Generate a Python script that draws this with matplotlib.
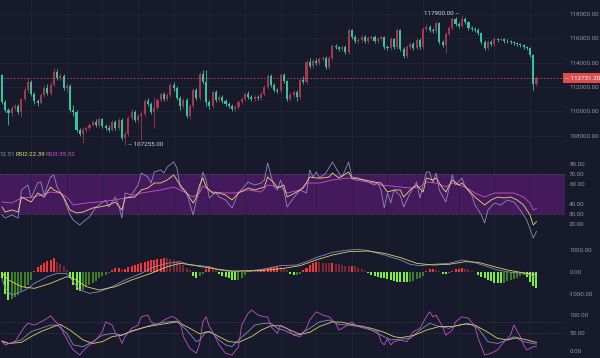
import matplotlib
matplotlib.use("Agg")
import matplotlib.pyplot as plt
from matplotlib.ticker import FormatStrFormatter

# ---- price candles (open of each candle = previous close) ----
first_open = 112980
closes = [110760, 110100, 109850, 110260, 110430, 109930, 111000, 111750, 112400, 111420,
          110840, 110680, 111330, 111910, 111500, 112160, 113230, 112730, 112900, 111910,
          112070, 110100, 109930, 108450, 108120, 108450, 108620, 108860, 109110, 108860,
          109360, 108780, 108620, 108450, 109110, 108620, 109280, 107800, 108120, 109440,
          109930, 109280, 109610, 109770, 110840, 110590, 109930, 110260, 110920, 111420,
          111000, 111330, 112160, 111910, 111090, 110430, 110920, 109610, 110430, 111750,
          111090, 113060, 112400, 110760, 110430, 111580, 110920, 111170, 110840, 110590,
          110430, 110180, 110350, 110760, 111000, 111420, 111170, 111000, 111170, 111090,
          111420, 111990, 112900, 112160, 111750, 111660, 112980, 112490, 111000, 111330,
          111580, 111170, 112570, 112400, 114050, 113720, 114130, 113970, 114300, 114380,
          113640, 114380, 115370, 115280, 115120, 115280, 114870, 116680, 116110, 115780,
          115860, 116110, 115780, 116030, 116110, 115780, 115940, 116110, 115280, 115200,
          115940, 115280, 116680, 115120, 114540, 115280, 115530, 115200, 115860, 115280,
          116770, 116930, 116680, 116600, 117260, 115700, 115450, 116350, 116850, 117590,
          117180, 117010, 117590, 117340, 116850, 116770, 116680, 116440, 115700, 115200,
          115700, 115530, 115940, 115860, 115940, 115780, 115760, 115700, 115610, 115530,
          115450, 115280, 115200, 114630, 112240, 112731.2]
highs = [113060, 110920, 110260, 110430, 110590, 110590, 111090, 111990, 112730, 112570,
         111580, 111000, 111500, 112160, 112240, 112400, 113560, 113480, 113140, 113060,
         112320, 112240, 110510, 110100, 108620, 108700, 108780, 109030, 109280, 109360,
         109520, 109440, 108950, 108860, 109280, 109280, 109440, 109440, 108370, 109610,
         110180, 110100, 109770, 110020, 111000, 111090, 110760, 111170, 111090, 111580,
         111580, 111500, 112320, 112400, 112070, 111250, 111090, 111090, 110590, 111910,
         111910, 113230, 113400, 113390, 110920, 111750, 111750, 111330, 111330, 111000,
         110760, 110590, 110510, 110920, 111170, 111580, 111660, 111330, 111330, 111330,
         111580, 112160, 113060, 113060, 112320, 111910, 113140, 113140, 112570, 111580,
         111750, 111750, 112730, 112900, 114210, 114380, 114300, 114380, 114460, 114540,
         114540, 114540, 115530, 115530, 115370, 115450, 115450, 116850, 116770, 116270,
         116030, 116270, 116270, 116190, 116270, 116270, 116110, 116270, 116190, 115450,
         116110, 116030, 116850, 116770, 115280, 115450, 115700, 115700, 116030, 116030,
         116930, 117180, 117100, 116850, 117420, 117340, 115860, 116520, 117010, 117750,
         117750, 117340, 117900, 117750, 117420, 117010, 116930, 116850, 116520, 115860,
         115860, 115860, 116110, 116030, 116110, 116030, 115940, 115860, 115780, 115700,
         115610, 115530, 115370, 115280, 114710, 112900]
lows = [110590, 109930, 108860, 109610, 110100, 109770, 109520, 110840, 111580, 111250,
        110590, 110430, 110590, 111170, 111330, 111330, 112070, 112570, 112570, 111750,
        111580, 109930, 109610, 108290, 107960, 107380, 108290, 108450, 108780, 108700,
        108700, 108620, 108450, 108290, 108370, 108450, 108450, 107630, 107255, 107960,
        109280, 109110, 109110, 107630, 109610, 110430, 109770, 108620, 110100, 110760,
        110840, 110840, 111170, 111660, 110920, 110100, 110260, 109440, 109360, 110260,
        110920, 110920, 112240, 110430, 110180, 110260, 110760, 110760, 110680, 110430,
        110260, 110020, 110020, 110180, 110590, 110840, 111000, 110840, 110840, 110920,
        110920, 111250, 111830, 112000, 111580, 111500, 111500, 112320, 110840, 110840,
        111170, 110840, 111000, 112240, 112240, 113560, 113560, 113800, 113800, 114130,
        113480, 113480, 114210, 115120, 114960, 114960, 114710, 114710, 115940, 115610,
        115610, 115700, 115610, 115610, 115860, 115610, 115610, 115780, 115120, 115040,
        115040, 115120, 115120, 114960, 114380, 114380, 115120, 115040, 115040, 115120,
        115120, 116600, 116520, 116440, 116440, 115530, 115280, 114790, 116190, 116680,
        117010, 116850, 116930, 117180, 116680, 116600, 116520, 116270, 115530, 115040,
        115040, 115370, 115370, 115700, 115780, 115610, 115610, 115530, 115450, 115370,
        115280, 115120, 115040, 114460, 111750, 112070]

price_ticks = [108000, 110000, 112000, 114000, 116000, 118000]

# ---- RSI lines (candle index, value) ----
rsi1_t = [0, 1, 3, 5, 6, 8, 9, 11, 12, 13, 15, 16, 17, 18, 19, 21, 22, 24, 25, 27, 29, 30, 32, 33,
          35, 36, 37, 38, 40, 42, 43, 45, 46, 47, 49, 50, 51, 53, 54, 55, 57, 59, 60, 61, 62, 63,
          64, 66, 67, 69, 71, 73, 76, 78, 80, 81, 82, 83, 84, 85, 86, 87, 88, 90, 92, 94, 95, 96,
          97, 98, 100, 102, 104, 105, 107, 108, 110, 113, 115, 116, 117, 118, 119, 120, 121, 123,
          124, 126, 128, 129, 131, 132, 133, 134, 135, 137, 139, 140, 142, 143, 145, 146, 148,
          149, 150, 152, 154, 156, 158, 160, 162, 164, 165]
rsi1_v = [29, 26, 29, 26, 54, 59, 46, 61, 62, 49, 67, 69, 57, 52, 46, 29, 24, 19, 22, 27, 37, 39, 44, 37,
          47, 39, 26, 51, 49, 59, 71, 67, 61, 72, 74, 71, 77, 82, 76, 57, 51, 29, 44, 54, 72, 64,
          46, 52, 47, 44, 36, 51, 62, 59, 61, 64, 81, 69, 57, 54, 64, 54, 37, 46, 54, 51, 74, 67,
          72, 66, 71, 82, 71, 67, 82, 67, 66, 62, 59, 61, 54, 36, 51, 41, 54, 48,
          37, 51, 62, 46, 72, 72, 61, 71, 54, 42, 69, 59, 66, 57, 49, 39, 29,
          21, 34, 41, 39, 44, 42, 34, 24, 6, 12.51]
rsi2_t = [0, 1, 3, 5, 6, 9, 11, 13, 15, 16, 18, 19, 21, 23, 25, 28, 30, 33, 35, 37, 38, 41, 43, 45,
          47, 49, 51, 53, 55, 57, 59, 60, 61, 62, 63, 65, 67, 69, 71, 73, 76, 78, 81, 82, 84, 85,
          87, 88, 91, 93, 95, 97, 99, 101, 102, 104, 107, 108, 112, 115, 117, 119, 121, 123, 124,
          126, 128, 130, 131, 133, 134, 136, 137, 139, 141, 142, 144, 146, 149, 151, 153, 155,
          157, 159, 161, 163, 164, 165]
rsi2_v = [37, 32, 34, 32, 47, 42, 51, 47, 57, 54, 51, 47, 34, 31, 32, 36, 37, 39, 42, 34, 46, 47, 54, 56,
          61, 61, 64, 69, 59, 51, 41, 47, 59, 66, 57, 51, 51, 49, 44, 51, 56, 54, 57, 67, 61, 56,
          59, 47, 52, 56, 67, 66, 66, 67, 71, 66, 72, 66, 64, 62, 61, 52, 54, 54, 47,
          54, 59, 52, 66, 64, 66, 56, 52, 64, 59, 61, 54, 47, 39, 44, 47, 46,
          47, 44, 39, 29, 19, 22.39]
rsi3_t = [0, 3, 6, 10, 15, 18, 20, 22, 26, 30, 35, 38, 43, 49, 53, 55, 59, 61, 62, 65, 69, 72, 76, 80,
          82, 86, 88, 92, 94, 98, 102, 107, 109, 115, 117, 123, 126, 129, 131, 134, 137, 139, 143,
          146, 149, 152, 156, 158, 161, 163, 164, 165]
rsi3_v = [42, 41, 46, 47, 52, 51, 47, 39, 41, 42, 44, 46, 51, 54, 57, 54, 47, 51, 58, 52, 51, 51, 54, 52,
          59, 57, 51, 54, 61, 61, 64, 66, 64, 61, 59, 57, 56, 57, 62, 61, 57, 61, 57,
          51, 47, 51, 51, 51, 47, 41, 34, 35.52]
rsi_ticks = [20, 30, 40, 60, 70, 80]

# ---- MACD ----
dif_t = [0, 1, 3, 6, 8, 10, 14, 17, 20, 22, 24, 27, 30, 34, 38, 43, 47, 51, 55, 58, 61, 64, 67, 71,
         74, 79, 82, 86, 91, 94, 97, 102, 107, 110, 113, 118, 123, 126, 129, 133, 138, 142, 145,
         149, 153, 157, 161, 163, 165]
dif_v = [-295, -760, -1070, -915, -760, -527, -217, -62, -62, -450, -837, -992, -915, -682, -372, -62,
         248, 403, 480, 326, 300, 248, 93, 15, 47, 93, 170, 295, 326, 480, 667, 915, 1023, 1054,
         992, 790, 558, 357, 295, 357, 403, 558, 480, 295, 93, -15, -62, -140, -295]
dea_t = [0, 2, 6, 10, 15, 20, 22, 26, 30, 35, 40, 46, 51, 55, 59, 61, 66, 71, 77, 82, 87, 92, 97,
         102, 107, 113, 118, 123, 128, 133, 138, 143, 147, 152, 156, 160, 164, 165]
dea_v = [-62, -372, -682, -760, -527, -217, -295, -682, -837, -682, -372, -62, 248, 403, 326, 260,
         140, 47, 47, 93, 170, 295, 558, 790, 945, 977, 868, 670, 403, 326, 357, 480, 450, 248,
         93, -15, -108, -140]
macd_hist = [-300, -1000, -1300, -1250, -1150, -1050, -900, -750, -600, -350,
             60, 230, 310, 420, 500, 570, 630, 480, 380, 280,
             100, -300, -600, -850, -900, -850, -700, -600, -500, -400,
             -300, -200, -120, -50, 90, 170, 170, 120, 150, 220,
             280, 330, 380, 420, 470, 520, 560, 580, 600, 620,
             640, 630, 600, 560, 500, 420, 320, 200, 80, -180,
             -260, -200, -80, 150, 250, 200, 100, -100, -180, -250,
             -300, -350, -380, -370, -300, -150, 80, 100, 90, 100,
             130, 160, 200, 230, 250, 260, 220, 160, 80, -100,
             -150, -140, -80, 80, 200, 330, 420, 480, 470, 440,
             420, 400, 430, 380, 350, 330, 300, 280, 300, 260,
             200, 130, 50, -60, -120, -170, -220, -260, -300, -340,
             -380, -420, -450, -450, -460, -470, -450, -400, -330, -260,
             -180, 60, 120, 140, 110, 50, -80, -100, -60, 60,
             120, 150, 170, 160, 120, 60, -20, -150, -220, -300,
             -370, -440, -500, -530, -530, -500, -430, -370, -320, -260,
             -200, -160, -250, -450, -650, -760]
macd_ticks = [-1000, 0, 1000]

# ---- KDJ ----
k_t = [0, 2, 6, 9, 12, 15, 17, 20, 22, 25, 28, 31, 34, 37, 40, 43, 46, 50, 54, 57, 60, 61, 63, 65,
       67, 69, 71, 73, 76, 78, 81, 83, 85, 87, 89, 91, 93, 95, 98, 101, 104, 107, 110, 114, 117,
       120, 123, 126, 129, 132, 135, 138, 141, 144, 147, 150, 153, 156, 158, 161, 164, 165]
k_v = [26, 21, 31, 54, 63, 72, 72, 49, 17, 12, 26, 44, 49, 44, 54, 63, 72, 80, 83, 58, 26, 30, 54, 49,
       31, 17, 12, 31, 54, 72, 77, 77, 63, 58, 49, 44, 52, 63, 81, 86, 74, 72, 68, 58, 44,
       31, 33, 35, 58, 77, 68, 63, 72, 77, 63, 26, 21, 31, 40, 26, 21, 19]
d_t = [0, 2, 6, 9, 12, 16, 18, 21, 25, 28, 31, 34, 37, 40, 45, 49, 54, 57, 61, 64, 67, 70, 73, 77,
       80, 83, 86, 89, 92, 95, 98, 102, 105, 109, 114, 118, 121, 123, 127, 131, 135, 139, 143,
       146, 150, 153, 156, 159, 162, 164, 165]
d_v = [28, 21, 24, 40, 54, 68, 74, 58, 31, 21, 26, 40, 44, 56, 68, 74, 81, 68, 48, 54, 40, 26, 24, 40,
       58, 70, 70, 58, 46, 52, 68, 81, 80, 72, 63, 52, 40, 37, 43, 58, 68, 68, 75,
       72, 52, 35, 31, 37, 31, 26, 24]
j_t = [0, 1, 4, 7, 8, 10, 12, 14, 15, 17, 18, 19, 21, 22, 24, 25, 27, 29, 31, 32, 34, 35, 36, 37,
       38, 40, 42, 43, 45, 46, 48, 50, 52, 53, 55, 56, 58, 60, 61, 62, 63, 64, 65, 67, 69, 71,
       73, 74, 76, 77, 79, 81, 82, 83, 85, 86, 88, 90, 92, 94, 95, 97, 99, 101, 103, 104, 106,
       108, 109, 112, 114, 116, 117, 118, 119, 120, 121, 123, 125, 127, 129, 131, 132, 133, 134,
       136, 137, 139, 140, 142, 144, 146, 147, 149, 151, 153, 155, 157, 158, 160, 161, 162, 164,
       165]
j_v = [26, 17, 26, 68, 77, 72, 81, 91, 98, 77, 72, 49, 17, 3, -11, 0, 17, 31, 54, 81, 72, 49, 44, 21,
       40, 63, 72, 95, 100, 81, 72, 86, 95, 95, 81, 40, 7, -6, 20, 81, 95, 68, 54, 17, -6, -11,
       12, 72, 105, 114, 100, 95, 95, 68, 49, 72, 63, 44, 40, 63, 86, 109, 100, 95, 77, 58, 68,
       81, 72, 68, 58, 54, 26, 17, 35, 17, 26, 30, 26, 54, 63, 95, 109, 95, 100,
       68, 44, 58, 81, 95, 91, 68, 35, -11, -6, 3, 26, 44, 72, 40, 17, 3, 12,
       12]
kdj_ticks = [0, 50, 100]

# ---- colours ----
BG = '#161a2b'
GRID = '#222738'
TXT = '#8e94a6'
UP = '#a3394b'
DOWN = '#35c4a0'

n = len(closes)
idx = list(range(n))
opens = [first_open] + closes[:-1]

fig = plt.figure(figsize=(6.0, 3.58), dpi=100, facecolor=BG)
W = 565 / 600.0
H = 358.0


def panel(top, bottom):
    ax = fig.add_axes([0, 1 - bottom / H, W, (bottom - top) / H])
    ax.set_facecolor(BG)
    for s in ax.spines.values():
        s.set_visible(False)
    ax.set_xlim(-0.62, 173.8)
    ax.yaxis.tick_right()
    ax.tick_params(axis='y', length=0, pad=3, labelsize=4.5, labelcolor=TXT)
    ax.tick_params(axis='x', length=0, labelbottom=False)
    ax.yaxis.set_major_formatter(FormatStrFormatter('%.2f'))
    ax.set_xticks(list(range(9, n, 11)))
    ax.grid(axis='x', color=GRID, lw=0.5)
    return ax


# price
ax = panel(0, 148)
ax.set_ylim(106972, 119152)
ax.set_yticks(price_ticks)
ax.grid(axis='y', color=GRID, lw=0.5)
cols = [UP if c >= o else DOWN for o, c in zip(opens, closes)]
ax.vlines(idx, lows, highs, colors=cols, lw=0.6, zorder=2)
ax.bar(idx, [max(abs(c - o), 20) for o, c in zip(opens, closes)],
       bottom=[min(o, c) for o, c in zip(opens, closes)], width=0.64,
       color=cols, lw=0, zorder=3)
last = closes[-1]
ax.axhline(last, color='#c04a5c', lw=0.6, ls=(0, (2, 2)), zorder=1)
imax = highs.index(max(highs))
imin = lows.index(min(lows))
ax.annotate('%.2f \u2013' % highs[imax], xy=(imax, highs[imax]), xytext=(-2, 1),
            textcoords='offset points', ha='right', va='center',
            fontsize=4.5, color='#d8dae0', family='Roboto')
ax.annotate('\u2013 %.2f' % lows[imin], xy=(imin, lows[imin]), xytext=(2, 0),
            textcoords='offset points', ha='left', va='center',
            fontsize=4.5, color='#d8dae0', family='Roboto')
ax.text(1.0005, last, '\u2013 %.2f' % last, transform=ax.get_yaxis_transform(),
        ha='left', va='center', fontsize=4.5, color='white', family='Roboto',
        bbox=dict(boxstyle='square,pad=0.35', fc='#e04b4b', ec='none'))
for lab in ax.get_yticklabels():
    lab.set_family('Roboto')

# RSI
ax = panel(148, 242)
ax.set_ylim(2, 96)
ax.set_yticks(rsi_ticks)
ax.axhspan(30, 70, color='#451a5c', lw=0, zorder=0)
for lv in (30, 70):
    ax.axhline(lv, color='#5e5779', lw=0.5, ls=(0, (2, 2)), zorder=1)
ax.plot(rsi3_t, rsi3_v, color='#cf4fd0', lw=0.6, zorder=3)
ax.plot(rsi2_t, rsi2_v, color='#e9d873', lw=0.6, zorder=4)
ax.plot(rsi1_t, rsi1_v, color='#8a8cbc', lw=0.6, zorder=2)
ax.text(0.0, 0.935, '12.51', transform=ax.transAxes, fontsize=4.5, color='#8a8cbc',
        family='Roboto', va='center')
ax.text(0.027, 0.935, 'RSI2:22.39', transform=ax.transAxes, fontsize=4.5, color='#e9d873',
        family='Roboto', va='center')
ax.text(0.08, 0.935, 'RSI3:35.52', transform=ax.transAxes, fontsize=4.5, color='#cf4fd0',
        family='Roboto', va='center')
for lab in ax.get_yticklabels():
    lab.set_family('Roboto')

# MACD
ax = panel(242, 300)
ax.set_ylim(-1302, 1395)
ax.set_yticks(macd_ticks)
hcols = []
for i, h in enumerate(macd_hist):
    prev = macd_hist[i - 1] if i else 0
    grow = abs(h) >= abs(prev) or (h > 0) != (prev > 0)
    if h >= 0:
        hcols.append('#f0363a' if grow else '#7c2633')
    else:
        hcols.append('#7ff033' if grow else '#3e7d27')
ax.bar(idx, macd_hist, width=0.62, color=hcols, lw=0, zorder=2)
ax.plot(dif_t, dif_v, color='#7f8cc0', lw=0.6, zorder=3)
ax.plot(dea_t, dea_v, color='#ddd063', lw=0.6, zorder=4)
for lab in ax.get_yticklabels():
    lab.set_family('Roboto')

# KDJ
ax = panel(300, 358)
ax.set_ylim(-19.4, 141.7)
ax.set_yticks(kdj_ticks)
for lv in (50, 80):
    ax.axhline(lv, color='#3a3f55', lw=0.5, ls=(0, (2, 2)), zorder=1)
ax.plot(k_t, k_v, color='#7f8cc0', lw=0.6, zorder=2)
ax.plot(d_t, d_v, color='#ddd063', lw=0.6, zorder=3)
ax.plot(j_t, j_v, color='#c552c8', lw=0.6, zorder=4)
for lab in ax.get_yticklabels():
    lab.set_family('Roboto')

fig.savefig('out.png', dpi=100, facecolor=BG)
